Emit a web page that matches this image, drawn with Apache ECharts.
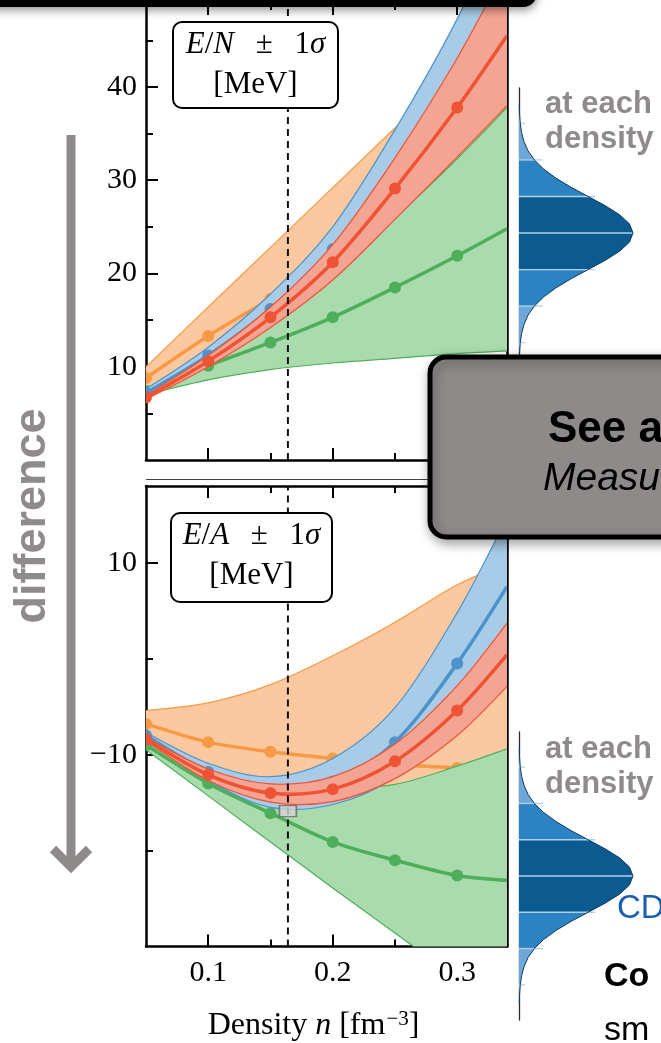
<!DOCTYPE html>
<html>
<head>
<meta charset="utf-8">
<script src="https://cdn.jsdelivr.net/npm/echarts@6/dist/echarts.min.js"></script>
<style>
  html, body { margin: 0; padding: 0; background: #ffffff; }
  #chart { width: 661px; height: 1043px; }
</style>
</head>
<body>
<div id="chart"></div>
<script>
// Densities (fm^-3) at which the curves are given
const density = [0.05, 0.10, 0.15, 0.20, 0.25, 0.30, 0.34];

// E/N, pure neutron matter [MeV]
const enOrangeMid = [8.8, 13.3, 17.3, 21.5, 26.0, 30.5, 34.0];
const enOrangeLo  = [7.4, 10.3, 12.8, 15.5, 18.5, 21.5, 24.0];
const enOrangeHi  = [10.0, 16.4, 22.8, 29.2, 35.6, 42.0, 47.0];
const enGreenMid  = [7.4, 10.1, 12.6, 15.3, 18.5, 21.9, 24.8];
const enGreenLo   = [7.0, 8.6, 9.7, 10.4, 10.9, 11.4, 11.7];
const enGreenHi   = [7.6, 11.4, 15.8, 20.5, 26.0, 32.3, 37.8];
const enBlueMid   = [7.2, 11.2, 16.2, 22.6, 31.0, 41.5, 51.0];
const enBlueLo    = [6.8, 10.3, 14.6, 20.0, 26.8, 35.3, 42.5];
const enBlueHi    = [7.6, 12.1, 17.8, 25.0, 35.4, 47.3, 59.0];
const enRedMid    = [6.7, 10.6, 15.3, 21.2, 29.1, 37.8, 45.5];
const enRedLo     = [6.5, 10.0, 14.2, 19.3, 25.8, 32.5, 38.0];
const enRedHi     = [6.9, 11.2, 16.4, 23.1, 32.4, 43.1, 53.0];

// E/A, symmetric nuclear matter [MeV]
const eaOrangeMid = [-6.8, -8.7, -9.7, -10.4, -11.0, -11.4, -11.7];
const eaOrangeLo  = [-8.0, -12.0, -14.5, -16.0, -16.5, -16.5, -16.0];
const eaOrangeHi  = [-5.4, -4.6, -2.7, 0.3, 3.8, 7.7, 9.9];
const eaGreenMid  = [-9.0, -13.0, -16.1, -19.1, -21.0, -22.6, -23.1];
const eaGreenLo   = [-9.5, -14.3, -19.1, -23.9, -28.6, -33.3, -37.0];
const eaGreenHi   = [-8.5, -11.8, -13.3, -13.5, -13.1, -11.2, -9.4];
const eaBlueMid   = [-8.0, -11.8, -13.9, -12.8, -8.7, -0.5, 7.5];
const eaBlueLo    = [-8.3, -12.7, -15.5, -15.2, -12.3, -5.8, 0.3];
const eaBlueHi    = [-7.7, -10.9, -12.3, -10.4, -5.1, 4.8, 14.7];
const eaRedMid    = [-8.4, -12.1, -14.0, -13.6, -10.7, -5.4, 0.4];
const eaRedLo     = [-8.6, -12.7, -14.95, -14.9, -12.5, -8.0, -2.9];
const eaRedHi     = [-8.2, -11.5, -13.05, -12.3, -8.9, -2.8, 3.7];

// Saturation density and empirical saturation point
const satDensity = 0.164;
const satPoint = [0.164, -15.9];

// Axis ticks
const xMajor = [0.1, 0.2, 0.3];
const xMinor = [0.15, 0.25];
const enMajor = [10, 20, 30, 40];
const enMinor = [5, 15, 25, 35, 45];
const eaMajor = [-10, 10];
const eaMinor = [-20, 0];

// Sketch of a probability distribution (offset in sigma, relative height)
const distSigma = [-3.5, -3.25, -3, -2.75, -2.5, -2.25, -2, -1.75, -1.5, -1.25, -1, -0.75, -0.5, -0.25, 0,
                   0.25, 0.5, 0.75, 1, 1.25, 1.5, 1.75, 2, 2.25, 2.5, 2.75, 3, 3.25, 3.5];
const distWidth = [0.002, 0.005, 0.011, 0.023, 0.044, 0.079, 0.135, 0.216, 0.325, 0.458, 0.607, 0.755, 0.882, 0.969, 1,
                   0.969, 0.882, 0.755, 0.607, 0.458, 0.325, 0.216, 0.135, 0.079, 0.044, 0.023, 0.011, 0.005, 0.002];
const distCuts = [-3.5, -3, -2, -1, 1, 2, 3, 3.5];
const distSepSigma = [-3, -2, -1, 0, 1, 2, 3];
const distSepLen = [0.05, 0.21, 0.67, 1.0, 0.67, 0.21, 0.05];

const COLORS = {
  orange: { line: '#f79a45', fill: '#fcc8a0' },
  green:  { line: '#4daf5b', fill: '#aadbad' },
  blue:   { line: '#4b93c9', fill: '#a8cce7' },
  red:    { line: '#ee5334', fill: '#f4a493' }
};
const DIST_FILLS = ['#b3d1ec', '#6ea8d8', '#2b83c1', '#0b5b90', '#2b83c1', '#6ea8d8', '#b3d1ec'];

const serif = '"Liberation Serif", "DejaVu Serif", serif';
const sans = '"Liberation Sans", Arial, sans-serif';

// Catmull-Rom spline through pixel points, as cubic Bezier path commands
function splinePath(pts) {
  let d = '';
  for (let i = 0; i < pts.length - 1; i++) {
    const p0 = pts[Math.max(i - 1, 0)], p1 = pts[i], p2 = pts[i + 1], p3 = pts[Math.min(i + 2, pts.length - 1)];
    const c1x = p1[0] + (p2[0] - p0[0]) / 6, c1y = p1[1] + (p2[1] - p0[1]) / 6;
    const c2x = p2[0] - (p3[0] - p1[0]) / 6, c2y = p2[1] - (p3[1] - p1[1]) / 6;
    d += ' C' + c1x + ' ' + c1y + ' ' + c2x + ' ' + c2y + ' ' + p2[0] + ' ' + p2[1];
  }
  return d;
}
const moveTo = p => 'M' + p[0] + ' ' + p[1];

// Uncertainty band between lo and hi, with thin edge lines
function band(xi, lo, hi, col, z) {
  return {
    type: 'custom', coordinateSystem: 'cartesian2d', xAxisIndex: xi, yAxisIndex: xi,
    silent: true, clip: true, z: z, data: [[0.05, 0]],
    renderItem: (params, api) => {
      const up = density.map((d, i) => api.coord([d, hi[i]]));
      const dn = density.map((d, i) => api.coord([d, lo[i]]));
      const dnRev = dn.slice().reverse();
      const fill = moveTo(up[0]) + splinePath(up) + ' L' + dnRev[0][0] + ' ' + dnRev[0][1] + splinePath(dnRev) + ' Z';
      return {
        type: 'group',
        children: [
          { type: 'path', shape: { pathData: fill }, style: { fill: col.fill, stroke: null } },
          { type: 'path', shape: { pathData: moveTo(up[0]) + splinePath(up) }, style: { fill: null, stroke: col.line, lineWidth: 1.2 } },
          { type: 'path', shape: { pathData: moveTo(dn[0]) + splinePath(dn) }, style: { fill: null, stroke: col.line, lineWidth: 1.2 } }
        ]
      };
    }
  };
}

// Central prediction: smooth line with dots at the computed densities
function centre(xi, mid, col, z) {
  return {
    type: 'custom', coordinateSystem: 'cartesian2d', xAxisIndex: xi, yAxisIndex: xi,
    silent: true, clip: true, z: z, data: [[0.05, 0]],
    renderItem: (params, api) => {
      const pts = density.map((d, i) => api.coord([d, mid[i]]));
      const children = [
        { type: 'path', shape: { pathData: moveTo(pts[0]) + splinePath(pts) },
          style: { fill: null, stroke: col.line, lineWidth: 3.5 } }
      ];
      pts.slice(0, 6).forEach(p => {
        children.push({ type: 'circle', shape: { cx: p[0], cy: p[1], r: 6 }, style: { fill: col.line } });
      });
      return { type: 'group', children: children };
    }
  };
}

function panelSeries(xi, sets) {
  const out = [];
  let z = 2;
  sets.forEach(s => {
    out.push(band(xi, s.lo, s.hi, s.col, z));
    out.push(centre(xi, s.mid, s.col, z + 1));
    z += 2;
  });
  return out;
}

const tickStyle = { color: '#000', width: 2 };
const axisLineOn = { show: true, onZero: false, lineStyle: { color: '#000', width: 2.5 } };
const axisLineOff = { show: false, onZero: false };

// Axis helpers: major + minor tick axes on both edges of a panel
function xAxes(grid, showLabels) {
  const base = { type: 'value', gridIndex: grid, min: 0.05, max: 0.34, splitLine: { show: false } };
  return [
    Object.assign({}, base, {
      position: 'bottom', axisLine: axisLineOn,
      axisTick: { show: true, inside: true, length: 12, customValues: xMajor, lineStyle: tickStyle },
      axisLabel: showLabels ? { show: true, customValues: xMajor, margin: 12, color: '#000', fontFamily: serif, fontSize: 30,
                                formatter: v => v.toFixed(1) } : { show: false },
      name: showLabels ? '{a|Density }{i|n}{a| [fm}{s|\u22123}{a|]}' : '',
      nameLocation: 'middle', nameGap: 62,
      nameTextStyle: {
        padding: [0, 26, 0, 0],
        rich: {
          a: { fontFamily: serif, fontSize: 32, color: '#000' },
          i: { fontFamily: serif, fontSize: 32, fontStyle: 'italic', color: '#000' },
          s: { fontFamily: serif, fontSize: 21, color: '#000', verticalAlign: 'top', padding: [0, 0, 14, 1] }
        }
      }
    }),
    Object.assign({}, base, {
      position: 'bottom', axisLine: axisLineOff,
      axisTick: { show: true, inside: true, length: 7, customValues: xMinor, lineStyle: tickStyle },
      axisLabel: { show: false }
    }),
    Object.assign({}, base, {
      position: 'top', axisLine: axisLineOn,
      axisTick: { show: true, inside: true, length: 12, customValues: xMajor, lineStyle: tickStyle },
      axisLabel: { show: false }
    }),
    Object.assign({}, base, {
      position: 'top', axisLine: axisLineOff,
      axisTick: { show: true, inside: true, length: 7, customValues: xMinor, lineStyle: tickStyle },
      axisLabel: { show: false }
    })
  ];
}

function yAxes(grid, min, max, major, minor) {
  const base = { type: 'value', gridIndex: grid, min: min, max: max, splitLine: { show: false } };
  return [
    Object.assign({}, base, {
      position: 'left', axisLine: axisLineOn,
      axisTick: { show: true, inside: true, length: 12, customValues: major, lineStyle: tickStyle },
      axisLabel: { show: true, customValues: major, margin: 9, color: '#000', fontFamily: serif, fontSize: 30,
                   formatter: v => (v < 0 ? '\u2212' + Math.abs(v) : String(v)) }
    }),
    Object.assign({}, base, {
      position: 'left', axisLine: axisLineOff,
      axisTick: { show: true, inside: true, length: 7, customValues: minor, lineStyle: tickStyle },
      axisLabel: { show: false }
    }),
    Object.assign({}, base, {
      position: 'right', axisLine: axisLineOn,
      axisTick: { show: true, inside: true, length: 12, customValues: major, lineStyle: tickStyle },
      axisLabel: { show: false }
    }),
    Object.assign({}, base, {
      position: 'right', axisLine: axisLineOff,
      axisTick: { show: true, inside: true, length: 7, customValues: minor, lineStyle: tickStyle },
      axisLabel: { show: false }
    })
  ];
}

function distAxes(grid, min, max) {
  return {
    x: { type: 'value', gridIndex: grid, min: 0, max: 1, show: false },
    y: { type: 'value', gridIndex: grid, min: min, max: max, position: 'left',
         axisLine: { show: true, onZero: false, lineStyle: { color: '#2a2a2a', width: 1.3 } },
         axisTick: { show: false }, axisLabel: { show: false }, splitLine: { show: false } }
  };
}

function distRender(params, api) {
  const children = [];
  for (let b = 0; b < distCuts.length - 1; b++) {
    const a = distCuts[b], c = distCuts[b + 1];
    const pts = [api.coord([0, a])];
    distSigma.forEach((s, i) => {
      if (s >= a - 1e-9 && s <= c + 1e-9) pts.push(api.coord([distWidth[i], s]));
    });
    pts.push(api.coord([0, c]));
    children.push({ type: 'polygon', shape: { points: pts }, style: { fill: DIST_FILLS[b] } });
  }
  distSepSigma.forEach((s, i) => {
    const p0 = api.coord([0, s]), p1 = api.coord([distSepLen[i], s]);
    children.push({ type: 'line', shape: { x1: p0[0], y1: p0[1], x2: p1[0], y2: p1[1] },
                    style: { stroke: '#b4cfe8', lineWidth: 1.3 } });
  });
  children.push({ type: 'polyline', shape: { points: distSigma.map((s, i) => api.coord([distWidth[i], s])) },
                  style: { stroke: '#0d3a60', lineWidth: 1, fill: null } });
  return { type: 'group', children: children };
}

const xs = xAxes(0, false).concat(xAxes(1, true));
const ys = yAxes(0, 0, 49, enMajor, enMinor).concat(yAxes(1, -30, 18, eaMajor, eaMinor));
const dU = distAxes(2, -3.34, 3.97);
const dL = distAxes(3, -3.97, 3.97);
xs.push(dU.x, dL.x);
ys.push(dU.y, dL.y);

const topSets = [
  { mid: enOrangeMid, lo: enOrangeLo, hi: enOrangeHi, col: COLORS.orange },
  { mid: enGreenMid, lo: enGreenLo, hi: enGreenHi, col: COLORS.green },
  { mid: enBlueMid, lo: enBlueLo, hi: enBlueHi, col: COLORS.blue },
  { mid: enRedMid, lo: enRedLo, hi: enRedHi, col: COLORS.red }
];
const botSets = [
  { mid: eaOrangeMid, lo: eaOrangeLo, hi: eaOrangeHi, col: COLORS.orange },
  { mid: eaGreenMid, lo: eaGreenLo, hi: eaGreenHi, col: COLORS.green },
  { mid: eaBlueMid, lo: eaBlueLo, hi: eaBlueHi, col: COLORS.blue },
  { mid: eaRedMid, lo: eaRedLo, hi: eaRedHi, col: COLORS.red }
];

let series = [];
series = series.concat(panelSeries(0, topSets));
series = series.concat(panelSeries(4, botSets));

// saturation density marker lines
[[0, 0, 49], [4, -30, 18]].forEach(([xi, y0, y1]) => {
  series.push({
    type: 'line', xAxisIndex: xi, yAxisIndex: xi, silent: true, z: 20, symbol: 'none',
    lineStyle: { color: '#111', width: 2, type: [7, 5] },
    data: [[satDensity, y0], [satDensity, y1]]
  });
});
series.push({
  type: 'scatter', xAxisIndex: 4, yAxisIndex: 4, silent: true, z: 21,
  symbol: 'rect', symbolSize: [17, 11],
  itemStyle: { color: '#d3d3d3', borderColor: '#6a6a6a', borderWidth: 1.5 },
  data: [satPoint]
});
series.push({ type: 'custom', coordinateSystem: 'cartesian2d', xAxisIndex: 8, yAxisIndex: 8,
              renderItem: distRender, data: [[0, 0]], silent: true, clip: false, z: 5 });
series.push({ type: 'custom', coordinateSystem: 'cartesian2d', xAxisIndex: 9, yAxisIndex: 9,
              renderItem: distRender, data: [[0, 0]], silent: true, clip: false, z: 5 });

function labelBox(x, y, w, h, line1) {
  return [
    { type: 'rect', x: x, y: y, z: 100, shape: { width: w, height: h, r: 9 },
      style: { fill: '#fff', stroke: '#000', lineWidth: 2 } },
    { type: 'text', x: x + w / 2, y: y + 23, z: 101,
      style: { text: line1, align: 'center', verticalAlign: 'middle',
               rich: {
                 i: { fontFamily: serif, fontSize: 31, fontStyle: 'italic', fill: '#000' },
                 r: { fontFamily: serif, fontSize: 31, fill: '#000' }
               } } },
    { type: 'text', x: x + w / 2, y: y + 63, z: 101,
      style: { text: '[MeV]', align: 'center', verticalAlign: 'middle',
               font: '31px ' + serif, fill: '#000' } }
  ];
}

const grayText = '#8f8b8b';
const graphic = [].concat(
  // banner strip across the top
  [{ type: 'rect', x: -30, y: -40, z: 90, shape: { width: 567, height: 47, r: 14 },
     style: { fill: '#000', shadowBlur: 10, shadowColor: 'rgba(0,0,0,0.45)', shadowOffsetY: 3 } }],
  labelBox(173, 22, 165, 86, '{i|E}{r|/}{i|N}{r|\u2002\u2009\u00b1\u2002\u20091}{i|\u03c3}'),
  labelBox(171, 513, 161, 89, '{i|E}{r|/}{i|A}{r|\u2002\u2009\u00b1\u2002\u20091}{i|\u03c3}'),
  [
    { type: 'line', z: 50, shape: { x1: 146, y1: 479.5, x2: 512, y2: 479.5 },
      style: { stroke: '#444', lineWidth: 1 } },
    // gray call-out panel
    { type: 'rect', x: 430, y: 357, z: 110, shape: { width: 280, height: 180, r: 16 },
      style: { fill: '#8e8a8a', stroke: '#000', lineWidth: 5,
               shadowBlur: 12, shadowColor: 'rgba(0,0,0,0.35)', shadowOffsetX: 2, shadowOffsetY: 4 } },
    { type: 'text', x: 548, y: 430, z: 111,
      style: { text: 'See a', font: 'bold 44px ' + sans, fill: '#000', verticalAlign: 'middle' } },
    { type: 'text', x: 543, y: 479, z: 111,
      style: { text: 'Measu', font: 'italic 39px ' + sans, fill: '#000', verticalAlign: 'middle' } },
    // side notes
    { type: 'text', x: 545, y: 104, z: 60,
      style: { text: 'at each', font: 'bold 31px ' + sans, fill: grayText, verticalAlign: 'middle' } },
    { type: 'text', x: 545, y: 139, z: 60,
      style: { text: 'density', font: 'bold 31px ' + sans, fill: grayText, verticalAlign: 'middle' } },
    { type: 'text', x: 545, y: 749, z: 60,
      style: { text: 'at each', font: 'bold 31px ' + sans, fill: grayText, verticalAlign: 'middle' } },
    { type: 'text', x: 545, y: 784, z: 60,
      style: { text: 'density', font: 'bold 31px ' + sans, fill: grayText, verticalAlign: 'middle' } },
    { type: 'text', x: 617, y: 909, z: 60,
      style: { text: 'CD', font: '33px ' + sans, fill: '#1d5fae', verticalAlign: 'middle' } },
    { type: 'text', x: 604, y: 977, z: 60,
      style: { text: 'Co', font: 'bold 34px ' + sans, fill: '#000', verticalAlign: 'middle' } },
    { type: 'text', x: 604, y: 1031, z: 60,
      style: { text: 'sm', font: '34px ' + sans, fill: '#000', verticalAlign: 'middle' } },
    // downward arrow with its caption
    { type: 'line', z: 60, shape: { x1: 71, y1: 135, x2: 71, y2: 864 },
      style: { stroke: '#8e8a8a', lineWidth: 9 } },
    { type: 'polyline', z: 60, shape: { points: [[53, 849], [71, 867], [89, 849]] },
      style: { stroke: '#8e8a8a', lineWidth: 9, fill: null, lineJoin: 'miter' } },
    { type: 'text', x: 33, y: 516, z: 60, rotation: Math.PI / 2,
      style: { text: 'difference', font: 'bold 45px ' + sans, fill: grayText, align: 'center', verticalAlign: 'middle' } }
  ]
);

const chart = echarts.init(document.getElementById('chart'), null, { renderer: 'canvas' });
chart.setOption({
  animation: false,
  backgroundColor: '#ffffff',
  grid: [
    { left: 146, top: 3, width: 361, height: 457 },
    { left: 146, top: 486, width: 361, height: 468 },
    { left: 519, top: 88, width: 114, height: 267 },
    { left: 519, top: 732, width: 114, height: 288 }
  ],
  xAxis: xs,
  yAxis: ys,
  series: series,
  graphic: graphic
});
</script>
</body>
</html>
